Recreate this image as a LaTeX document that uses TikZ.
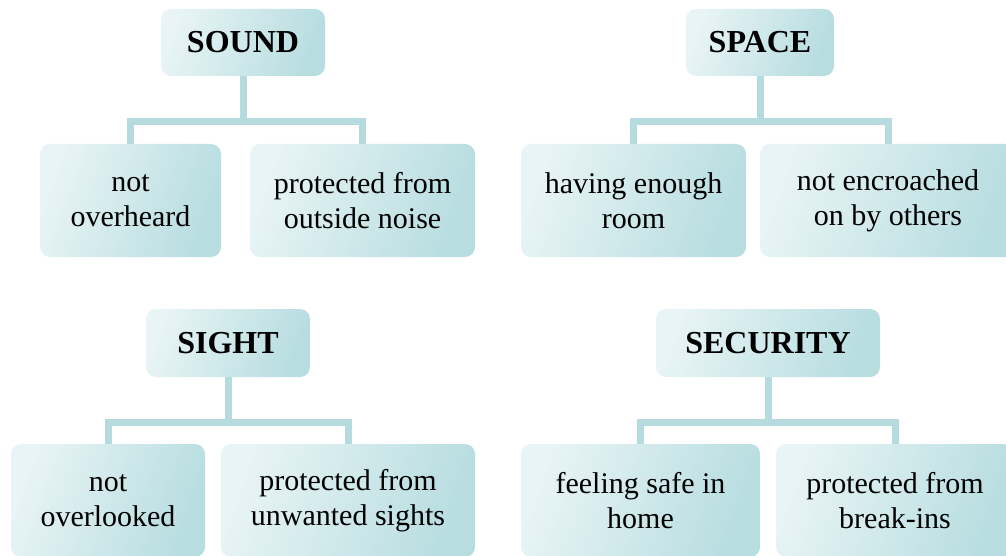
\documentclass[tikz,border=0pt]{standalone}
\usepackage{fontspec}
\setmainfont{Liberation Serif}
\definecolor{boxlight}{HTML}{E8F4F5}
\definecolor{boxdark}{HTML}{B7DDE0}
\definecolor{linkc}{HTML}{B5DBDE}
\tikzset{
  base/.style={rounded corners=10pt, inner sep=0pt, align=center,
    left color=boxlight, right color=boxdark, shading angle=70},
  head/.style={base, font=\fontsize{32}{38}\selectfont\bfseries},
  leaf/.style={base, font=\fontsize{30}{35}\selectfont},
  link/.style={draw=linkc, line width=7pt}
}
\begin{document}
\begin{tikzpicture}[x=1pt, y=-1pt]
\useasboundingbox (0,0) rectangle (1006,556);
\clip (0,0) rectangle (1006,556);

% SOUND
\node[head, minimum width=164pt, minimum height=67pt] (sound) at (243,42.5) {SOUND};
\node[leaf, minimum width=181pt, minimum height=113pt] (over) at (130.5,200.5) {not\\overheard};
\node[leaf, minimum width=225pt, minimum height=113pt] (noise) at (362.5,200.5) {protected from\\outside noise};
\coordinate (sbar) at (243,121.5);

% SPACE
\node[head, minimum width=148pt, minimum height=67pt] (space) at (760,42.5) {SPACE};
\node[leaf, minimum width=225pt, minimum height=113pt] (room) at (633.5,200.5) {having enough\\room};
\node[leaf, minimum width=256pt, minimum height=113pt] (encr) at (888,200.5) {not encroached\\on by others};
\coordinate (pbar) at (760,121.5);

% SIGHT
\node[head, minimum width=164pt, minimum height=68pt] (sight) at (228,343) {SIGHT};
\node[leaf, minimum width=194pt, minimum height=113pt] (look) at (108,500.5) {not\\overlooked};
\node[leaf, minimum width=254pt, minimum height=113pt] (unw) at (348,500.5) {protected from\\unwanted sights};
\coordinate (gbar) at (228,422);

% SECURITY
\node[head, minimum width=224pt, minimum height=68pt] (secur) at (768,343) {SECURITY};
\node[leaf, minimum width=239pt, minimum height=113pt] (safe) at (640.5,500.5) {feeling safe in\\home};
\node[leaf, minimum width=238pt, minimum height=113pt] (brk) at (895,500.5) {protected from\\break-ins};
\coordinate (cbar) at (768,422);

% connectors
\draw[link] (sound.south) -- (sbar);
\draw[link] (over.north) |- (sbar) -| (noise.north);
\draw[link] (space.south) -- (pbar);
\draw[link] (room.north) |- (pbar) -| (encr.north);
\draw[link] (sight.south) -- (gbar);
\draw[link] (look.north) |- (gbar) -| (unw.north);
\draw[link] (secur.south) -- (cbar);
\draw[link] (safe.north) |- (cbar) -| (brk.north);
\end{tikzpicture}
\end{document}
